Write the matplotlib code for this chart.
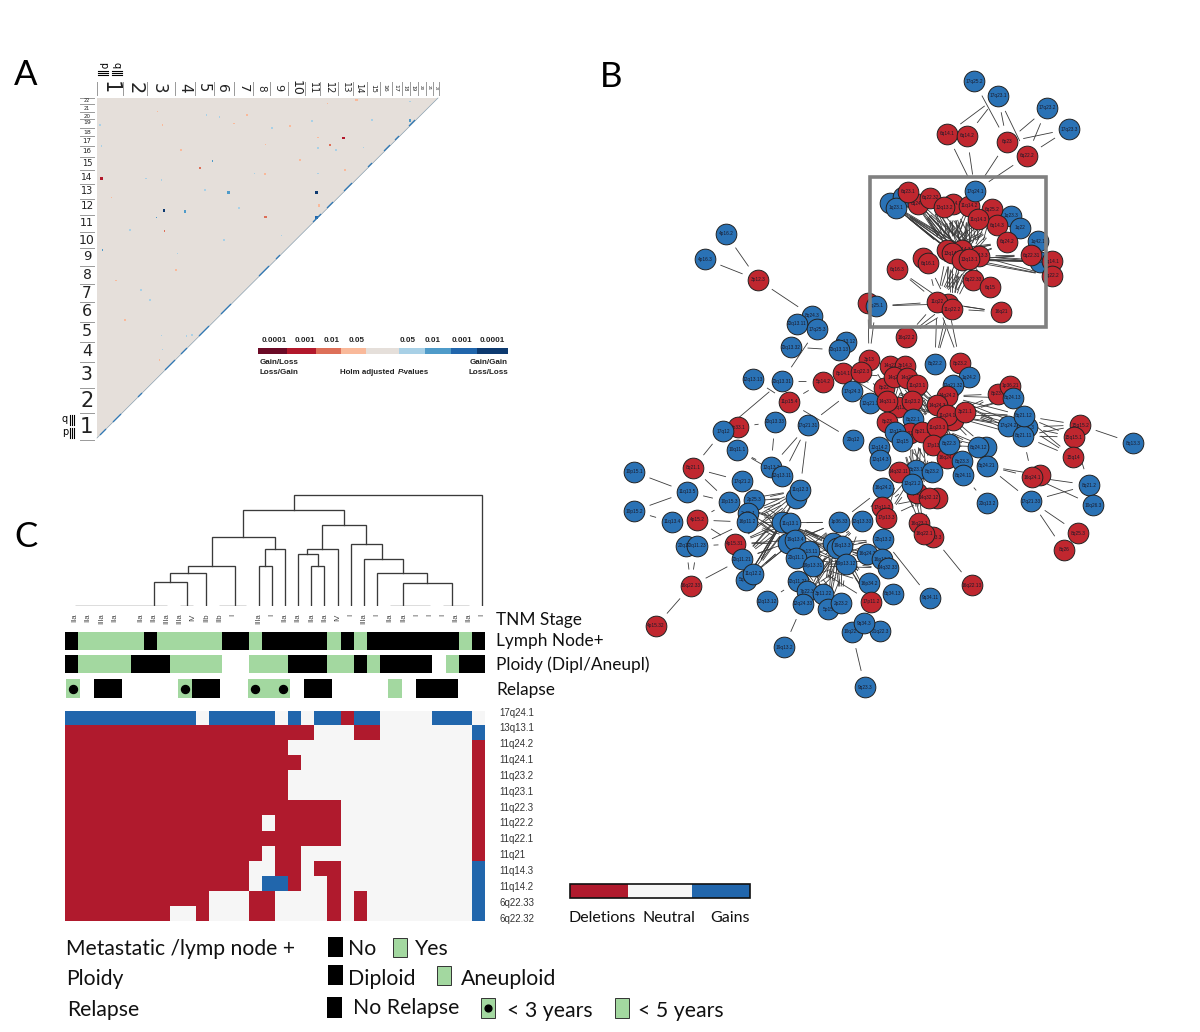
import numpy as np
import matplotlib
matplotlib.use("Agg")
import matplotlib.pyplot as plt
from matplotlib.colors import ListedColormap
from matplotlib.patches import Rectangle

W, H = 1200, 1032
LABEL_FONT = "Lato"
ARIAL = "Liberation Sans"

# panel C heatmap, D deletion, N neutral, G gain
heat_rows = ["17q24.1", "13q13.1", "11q24.2", "11q24.1", "11q23.2", "11q23.1", "11q22.3",
             "11q22.2", "11q22.1", "11q21", "11q14.3", "11q14.2", "6q22.33", "6q22.32"]
heat_values = [
    "GGGGGGGGGGNGGGGGNGNGGDGGNNNNGGGN",
    "DDDDDDDDDDDDDDDDDDDNNNDDNNNNNNNG",
    "DDDDDDDDDDDDDDDDDNNNNNNNNNNNNNND",
    "DDDDDDDDDDDDDDDDDDNNNNNNNNNNNNND",
    "DDDDDDDDDDDDDDDDDNNNNNNNNNNNNNND",
    "DDDDDDDDDDDDDDDDDNNNNNNNNNNNNNND",
    "DDDDDDDDDDDDDDDDDDDDDNNNNNNNNNND",
    "DDDDDDDDDDDDDDDNDDDDDNNNNNNNNNND",
    "DDDDDDDDDDDDDDDDDDDDDNNNNNNNNNND",
    "DDDDDDDDDDDDDDDNDDNNNNNNNNNNNNND",
    "DDDDDDDDDDDDDDNNDDNDDNNNNNNNNNNG",
    "DDDDDDDDDDDDDDNGGDNNDNNNNNNNNNNG",
    "DDDDDDDDDDDNNNDDNNNNDNDNNNNNNNNG",
    "DDDDDDDDNNDNNNDDNNNNDNDNNNNNNNNG",
]

# clinical tracks, B black, Y green, O green with a dot, . empty
lymph_track = "BYYYYYBYYYYYBBYBBBBBYBYBBBBBBBYB"
ploidy_track = "BYYYYBBBYYYY..YYYBBBYYBYBBBB.YBB"
relapse_track = "O.BB....OBB..OYO.BB....Y.BBB.."
tnm_labels = ["IIa", "IIa", "IIIa", "IIa", "", "IIa", "IIa", "IIIa", "IIIa", "IV", "IIb", "IIb", "I", "",
              "IIIa", "I", "IIa", "IIa", "IIa", "IIa", "IV", "I", "IIIa", "I", "IIa", "IIa", "I", "I", "I",
              "IIa", "IIa", "I"]

# dendrogram brackets, in leaf positions and heights
den_left = [6, 7.23, 8.6, 14, 14.47, 10.4, 18, 17, 17.7, 25, 23, 22, 21, 18.8, 12.8, 16.7]
den_right = [8.5, 10, 12.2, 15, 16, 15.2, 19, 18.5, 20, 28.7, 26.8, 25, 23.4, 22.2, 20.5, 31]
den_left_base = [0, 23.7, 32.7, 0, 40.3, 40.3, 0, 0, 52, 0, 0, 0, 0, 56.7, 69, 95.7]
den_right_base = [0, 0, 0, 0, 0, 56.7, 0, 40.3, 0, 0, 23.3, 32.7, 46.7, 61.7, 80.7, 0]
den_top = [23.7, 32.7, 40.3, 40.3, 56.7, 69, 40.3, 52, 56.7, 23.3, 32.7, 46.7, 61.7, 80.7, 95.7, 111]
den_flat_from = [0, 8, 11, 24, 28]
den_flat_to = [7, 9, 13, 27, 30]

# panel A, chromosome label positions along the triangle
chrom_names = [str(i) for i in range(1, 23)]
top_label_x = [110, 135, 159, 185, 203, 222, 243, 261, 278, 296, 313, 329, 345, 359, 373, 385, 396, 405, 413, 421, 429, 436]
top_sep_x = [97, 123, 147, 175, 195, 214, 234, 253, 270, 288, 305, 320, 338, 353, 367, 380, 392, 402, 410, 418, 426, 433, 439]
top_label_size = [15, 14, 12, 11, 10.5, 10, 9.5, 7.5, 8, 9, 7, 7, 6.5, 6, 5, 4.5, 4.5, 3.5, 3.5, 3, 3, 2.5]
left_label_y = [427, 401, 375, 352, 332, 312, 293, 275, 257, 240, 223, 206, 191, 177, 164, 151, 141, 132, 123, 116, 108, 101]
left_sep_y = [440, 413, 388, 362, 342, 322, 302, 284, 266, 248, 232, 215, 199, 184, 170, 157, 146, 136, 128, 119, 112, 104, 98]
left_label_size = [15.5, 15, 13.5, 11.5, 11.5, 11.5, 11, 10, 9.5, 9, 8, 7.5, 7, 6.5, 6, 5, 5, 4.5, 4.5, 4, 3.5, 3.5]

# panel A, significant cells, class is an index into scale_colors
strong_x = [101.7, 316.7, 164, 185, 265.7, 319, 228.3, 316.7, 343.3, 356.7, 410]
strong_y = [178.3, 192.7, 210.3, 211.7, 217, 205.3, 192.7, 217.3, 138, 100, 120.7]
strong_class = [1, 8, 8, 6, 2, 3, 6, 7, 1, 3, 6]
faint_x = [111.7, 161.7, 157.3, 162.3, 330, 318, 312, 327.7, 410, 363.3, 318, 265.7, 254.3, 265, 318, 200, 212.3, 146,
           101.7, 102.3, 156.7, 164.3, 281.7, 177.7, 116, 161.7, 162.7, 186.7, 192, 159.3, 219.3, 234, 206.7, 130,
           100, 181, 205, 247, 272, 300, 336, 345, 372, 141, 176, 224, 290, 150, 125, 239]
faint_y = [197.3, 180, 111.7, 125, 145, 137.3, 121, 103.3, 101.7, 147.3, 148, 144.3, 173.3, 174, 173.3, 168, 161, 178.3,
           146, 250, 217.3, 231, 235.7, 253.3, 280.7, 335.7, 349.3, 336, 335, 360, 117, 123.3, 115, 230,
           125, 150, 190, 115, 128, 160, 150, 170, 120, 290, 270, 240, 126, 300, 320, 208]
faint_class = [3, 5, 3, 3, 2, 3, 5, 3, 5, 5, 5, 3, 5, 3, 5, 2, 6, 5,
               5, 6, 6, 2, 5, 5, 3, 5, 5, 5, 5, 3, 5, 3, 5, 5,
               5, 3, 5, 3, 5, 3, 5, 3, 5, 5, 3, 5, 3, 5, 3, 5]
diag_x = [103, 117, 140, 170, 184, 204, 226, 264, 278, 317, 330, 348, 370, 387, 397, 412]
diag_len = [3, 4, 2, 5, 3, 5, 5, 5, 2, 4, 3, 4, 2, 3, 2, 3]
scale_colors = ["#6b0a26", "#b2182b", "#dd6f58", "#f9b99a", "#e5dfda", "#a8d0e6", "#4f9bc9", "#2166ac", "#0d3a70"]
scale_edges = [258, 287, 316, 341, 366, 399, 425, 451, 477, 508]
scale_labels = ["0.0001", "0.001", "0.01", "0.05", "0.05", "0.01", "0.001", "0.0001"]
scale_label_x = [274, 305, 332, 357, 408, 433, 462, 492]

# panel B nodes, in drawing order, R deletion, B gain
node_names = [
    "17q25.2", "17q23.1", "17q23.2", "17q23.3", "6q14.1", "6q14.2", "6p23", "6q22.2", "1q23.2", "1q23.b",
    "1q23.1", "6q24.1", "6q23.1", "11q14.1", "6q22.32", "13q13.2", "11q14.2", "17q24.1", "1q23.3", "6q25.2",
    "6q14.3", "11q14.3", "1q22", "1q42.1", "6q24.2", "1q42.2", "3q14.1", "3q22.2", "6q22.31", "13q14.2",
    "13q14.3", "13q14.1", "13q21.1", "13q13.3", "13q13.1", "6q16.2", "6q16.1", "6q16.3", "6q22.33", "6q15",
    "11q22.1", "11q22", "11q22.2", "16q21", "16p13.3", "1q25.1", "16q22.2", "4p16.2", "4p16.3", "3p12.3",
    "8q24.3", "20q13.11", "17q25.3", "20q13.32", "20q13.12", "20q13.13", "12q13.13", "20q13.31", "5p14.2", "3p13",
    "8p14.1", "11q22.3", "8q22.2", "8p23.2", "1q24.2", "12q21.32", "17q24.3", "11p15.4", "12q21.3", "20q13.33",
    "17q21.31", "3p33.1", "17q12", "14q24.2", "14q24.3", "11q24.2", "11q24.1", "3p21.1", "8p22", "14q21",
    "3p14.3", "14q22", "14q23", "11q23.1", "14q13", "14q31.1", "11q23.2", "8p23", "8q22.1", "8p21.2",
    "12q12", "12q15", "8p21.1", "11q23.3", "17p13", "16q24.r", "8q22.3", "20q12", "10q11.1", "12q14.2",
    "12q14.3", "8q21.1", "12q13.2", "12q13.11", "8q23.1", "14q32.11", "17q21.2", "16q24.2", "14q32.13", "8q23.2",
    "12q21.2", "14q32.1", "14q32.12", "10p15.1", "11q13.5", "10p15.2", "10p15.3", "2p25.3", "11q12.1", "11q12.3",
    "11q13.4", "4p15.2", "2p25.1", "16p11.2", "17q11.2", "17p13.3", "11q13.2", "11q13.1", "1p36.33", "12q13.33",
    "16q23.1", "16q23.3", "16q22.1", "22q13.2", "4p15.31", "22q11.1", "20q11.23", "22q13.3", "19q13.4", "19q13.1",
    "19q13.2b", "19q13.3", "16q24.3", "16p13.1", "14q32.33", "8p13.11", "20q11.1", "20q11.21", "5q35.3", "11q12.2",
    "19p13.31", "19p13.12", "16q22.33", "22q11.21", "7p22.3", "3p11.22", "16p34.2", "8q34.13", "12q13.12", "12q24.33",
    "5p15", "2p23.2", "17p11.2", "4p15.32", "10q22.3", "21q22.3", "9q34.3", "19q13.2", "9q23.3", "8p23.1",
    "1p36.21", "8q24.13", "8q24.22", "8q24.12", "17q24.2", "8q21.3", "8q21.11", "8q21.12", "15q15.2", "15q15.1",
    "15q14", "8q13.3", "8q23.3", "8q24.11", "8q24.21", "16q24.b", "16q24.1", "8q21.2", "10q26.3", "17q21.33",
    "20q13.2", "8q25.3", "8q26", "9q34.11", "16q22.13",
]
node_x = [
    974, 998, 1047, 1069, 947, 967, 1007, 1027, 890, 903,
    896, 918, 908, 953, 930, 944, 969, 975, 1011, 992,
    997, 978, 1020, 1038, 1007, 1040, 1052, 1052, 1031, 947,
    962, 952, 962, 979, 969, 923, 928, 897, 973, 990,
    948, 937, 952, 1001, 868, 876, 906, 726, 705, 758,
    812, 797, 817, 791, 846, 839, 753, 782, 823, 869,
    843, 861, 935, 960, 969, 953, 852, 789, 870, 775,
    808, 738, 723, 947, 937, 953, 947, 965, 884, 890,
    905, 894, 907, 917, 898, 887, 912, 887, 913, 910,
    895, 902, 922, 937, 933, 947, 949, 853, 737, 879,
    880, 693, 771, 782, 916, 899, 742, 883, 917, 932,
    912, 937, 929, 634, 687, 634, 729, 754, 796, 800,
    672, 697, 748, 747, 882, 886, 782, 790, 839, 862,
    919, 933, 924, 883, 735, 686, 697, 788, 795, 833,
    837, 842, 867, 882, 888, 809, 796, 742, 746, 753,
    813, 846, 691, 798, 807, 823, 869, 893, 767, 803,
    828, 841, 871, 656, 852, 880, 864, 784, 865, 998,
    1010, 1013, 986, 978, 1008, 1027, 1023, 1024, 1080, 1074,
    1073, 1133, 962, 963, 987, 1040, 1032, 1089, 1093, 1031,
    987, 1078, 1064, 930, 972,
]
node_y = [
    81, 96, 108, 129, 134, 136, 142, 156, 203, 197,
    208, 204, 192, 204, 198, 207, 206, 191, 216, 209,
    225, 219, 228, 241, 242, 262, 261, 276, 255, 250,
    250, 253, 260, 256, 259, 258, 263, 269, 280, 287,
    304, 302, 309, 312, 303, 306, 337, 234, 259, 280,
    316, 324, 329, 347, 342, 350, 379, 381, 382, 360,
    373, 372, 364, 363, 377, 385, 391, 402, 403, 422,
    425, 427, 431, 396, 405, 420, 415, 412, 388, 366,
    366, 377, 378, 385, 407, 401, 401, 422, 419, 433,
    432, 441, 432, 427, 445, 458, 444, 440, 450, 447,
    460, 468, 467, 476, 470, 472, 481, 488, 493, 472,
    484, 498, 498, 472, 492, 511, 502, 500, 498, 490,
    522, 520, 513, 522, 507, 518, 522, 523, 522, 521,
    523, 537, 534, 539, 544, 546, 546, 543, 540, 543,
    548, 546, 554, 559, 568, 551, 558, 559, 580, 574,
    566, 564, 586, 581, 591, 594, 583, 594, 601, 604,
    609, 603, 602, 626, 632, 631, 623, 647, 687, 394,
    386, 398, 447, 447, 426, 427, 436, 416, 425, 437,
    457, 443, 461, 475, 466, 475, 477, 485, 505, 501,
    503, 533, 550, 598, 585,
]
node_kind = (
    "BBBBRRRRBB" "BRRRRRRBBR" "RRBBRBRRRR" "RRRRRRRRRR" "RRRRRBRBBR"
    "BBBBBBBBRR" "RRBRBBBRBB" "BRBRRRRRRR" "RRRRRRRRBR" "BBRRRRBBBB"
    "BRBBBRBBRB" "BRRBBBBBBB" "BRBBRRBBBB" "RRRBRBBBBB" "BBBBBBBBBB"
    "BBRBBBBBBB" "BBRRBBBBBR" "RBBBBBBBRR" "RBBBBRRBBB" "BRRBR"
)

# panel B edges, every source is linked to every target of a group
upper_row = ["1q23.2", "1q23.1", "6q23.1", "6q24.1", "6q22.32", "13q13.2", "11q14.1", "11q14.2",
             "11q14.3", "6q25.2", "6q14.3", "6q24.2", "17q24.1"]
lower_row = ["13q14.2", "13q14.3", "13q14.1", "13q21.1", "13q13.3", "13q13.1"]
star_hub = ["19q13.1", "19q13.2b", "19q13.3", "19p13.12", "19p13.31"]
star_rim = ["22q11.21", "7p22.3", "3p11.22", "12q24.33", "5p15", "2p23.2", "16q24.3", "16p13.1", "14q32.33",
            "22q13.2", "12q13.33", "16p34.2", "17p11.2"]
edge_groups = [
    (["17q23.1"], ["6q14.1", "6q14.2", "6p23", "6q22.2"]),
    (["17q25.2"], ["6p23"]),
    (["17q23.2", "17q23.3"], ["6p23", "6q22.2"]),
    (["17q24.1"], ["6q14.1", "6q14.2", "6p23", "6q22.2"]),
    (upper_row, lower_row),
    (lower_row, ["6q22.33", "6q15", "11q22", "11q22.1", "11q22.2", "6q16.1"]),
    (["13q13.3", "13q13.1", "13q21.1"], ["3q14.1", "3q22.2", "6q22.31", "1q42.2"]),
    (["1q42.1"], ["6q24.2"]),
    (["11q22", "11q22.1", "11q22.2"], ["16q21", "16q22.2", "8q22.2"]),
    (["11q22", "11q22.1"], ["1q25.1", "6q16.3", "6q16.1", "8p23.2"]),
    (["16p13.3", "1q25.1"], ["3p13"]),
    (["3p12.3"], ["4p16.2", "4p16.3", "8q24.3"]),
    (["17q25.3"], ["20q13.12", "20q13.13", "20q13.31"]),
    (["20q13.13", "20q13.12"], ["8p14.1", "11q22.3", "3p13"]),
    (["3p13", "11q22.3", "8p14.1"], ["14q21", "14q22", "8p22", "14q13"]),
    (["14q21", "3p14.3", "14q22", "14q23", "8p22", "14q13", "14q31.1", "11q23.1", "11q23.2"],
     ["14q24.3", "11q24.1", "11q23.3", "8q22.1", "8p23"]),
    (["14q24.2", "11q24.1", "3p21.1"], ["8p23.1", "8q24.13", "17q24.2", "8q21.12", "8q21.3", "8q21.11"]),
    (["14q24.3", "11q23.3", "8p21.1", "17p13"], ["8q22.3", "8q24.12", "8q24.22", "8q23.3", "8q24.11"]),
    (["12q21.32", "1q24.2", "8p23.2"], ["14q24.2", "11q24.1", "14q24.3"]),
    (["14q32.11", "17p13", "8p21.2", "8p21.1", "12q15"], ["12q21.2", "14q32.12", "14q32.13", "8q23.2", "8q23.1"]),
    (["12q21.2", "14q32.12", "14q32.11", "8q23.1"], ["16q23.1", "16q22.1", "17p13.3", "17q11.2"]),
    (["20q13.32"], ["20q13.13"]),
    (["5p14.2"], ["20q13.31", "11p15.4"]),
    (["17q12"], ["20q13.31", "8q21.1"]),
    (["12q13.13"], ["11p15.4"]),
    (["11p15.4"], ["20q12"]),
    (["17q21.31"], ["17q24.3", "12q13.2", "12q13.11", "11q12.3"]),
    (["3p33.1"], ["20q13.33"]),
    (["20q13.33"], ["12q13.2"]),
    (["10q11.1"], ["17q21.2", "12q13.2", "12q13.11"]),
    (["8q21.1"], ["17q21.2", "10p15.3"]),
    (["11q13.5"], ["10p15.1", "10p15.2", "10p15.3"]),
    (["10p15.2"], ["11q13.4"]),
    (["4p15.2"], ["10p15.3", "16p11.2", "4p15.31"]),
    (["20q11.23"], ["4p15.31", "16p11.2", "16q22.33"]),
    (["16q22.33"], ["20q11.21", "4p15.32", "22q11.1"]),
    (["10p15.3", "2p25.3", "2p25.1", "16p11.2", "4p15.31", "20q11.21", "11q12.2", "5q35.3"],
     ["11q13.2", "11q13.1", "22q13.3", "19q13.4", "11q12.1", "11q12.3"]),
    (["11q13.2", "11q13.1", "22q13.3", "19q13.4", "8p13.11", "20q11.1"], star_hub + ["1p36.33"]),
    (star_hub, star_rim),
    (["8p13.11", "20q11.1"], ["22q11.21", "7p22.3", "3p11.22", "5p15", "12q24.33"]),
    (["1p36.33", "12q13.33", "22q13.2"], ["17q11.2", "17p13.3", "16q24.2"]),
    (["12q13.12"], ["22q11.21"]),
    (["12q24.33"], ["19q13.2"]),
    (["2p23.2"], ["10q22.3"]),
    (["10q22.3"], ["9q23.3"]),
    (["16q23.3"], ["16q22.13"]),
    (["22q13.2"], ["9q34.11"]),
    (["17q21.33"], ["8q24.21", "8q21.2", "8q25.3", "8q26"]),
    (["16q24.1"], ["8q24.21", "10q26.3", "8q21.2", "8q21.11"]),
    (["16q24.b"], ["8q24.21"]),
    (["8q24.11"], ["20q13.2"]),
    (["8q13.3"], ["15q15.2"]),
    (["8q21.12", "8q21.3", "8q21.11"], ["15q15.1", "15q15.2", "15q14"]),
    (["15q15.1", "15q14"], ["8q21.2"]),
]

# legend texts
track_titles = ["TNM Stage", "Lymph Node+", "Ploidy (Dipl/Aneupl)", "Relapse"]
track_title_y = [620, 641, 665, 690]
legend_titles = ["Metastatic /lymp node +", "Ploidy", "Relapse"]
legend_title_x = [66, 66, 67]
legend_title_y = [949, 979, 1010]

RED = "#b01a2d"
BLUE = "#2166ac"
GREEN = "#a3d8a0"
NEUTRAL = "#f6f6f6"
NODE_RED = "#c0272f"
NODE_BLUE = "#2a72b5"


def panel(x0, y0, x1, y1):
    """axes placed by pixel box in the 1200x1032 picture"""
    a = fig.add_axes([x0 / W, 1 - y1 / H, (x1 - x0) / W, (y1 - y0) / H])
    a.axis("off")
    return a


def draw_track(a, track):
    codes = {".": 0, "B": 1, "Y": 2, "O": 2}
    cells = np.array([[codes[c] for c in track]])
    a.imshow(cells, aspect="auto", interpolation="nearest", vmin=0, vmax=2,
             cmap=ListedColormap(["white", "black", GREEN]))
    dots = [i for i, c in enumerate(track) if c == "O"]
    a.scatter(dots, [0] * len(dots), s=33, color="black", zorder=3)


fig = plt.figure(figsize=(W / 100, H / 100), dpi=100)

# panel C heatmap and tracks
ax_heat = panel(65, 711, 485, 921)
heat_codes = {"D": 0, "N": 1, "G": 2}
heat = np.array([[heat_codes[c] for c in row] for row in heat_values])
ax_heat.imshow(heat, aspect="auto", interpolation="nearest", cmap=ListedColormap([RED, NEUTRAL, BLUE]))
draw_track(panel(65, 632, 485, 650), lymph_track)
draw_track(panel(65, 655, 485, 673), ploidy_track)
draw_track(panel(66, 679, 486, 698), relapse_track)

ax_den = panel(68.4, 480, 488.6, 606)
ax_den.set_xlim(-0.5, 31.5)
ax_den.set_ylim(0, 126)
for i in range(len(den_top)):
    ax_den.plot([den_left[i], den_left[i], den_right[i], den_right[i]],
                [den_left_base[i], den_top[i], den_top[i], den_right_base[i]],
                color="#3a3a3a", lw=0.95, solid_joinstyle="miter")
ax_den.hlines([0] * len(den_flat_from), den_flat_from, den_flat_to, color="#555555", lw=1.0)

# overlay for everything placed directly in picture pixels
ax = fig.add_axes([0, 0, 1, 1])
ax.set_xlim(0, W)
ax.set_ylim(H, 0)
ax.axis("off")
ax.patch.set_alpha(0)

for i, lab in enumerate(tnm_labels):
    ax.text(75 + 13.13 * i, 613.5, lab, rotation=90, ha="center", va="top", fontsize=5.6,
            family=ARIAL, color="#444444")
for title, y in zip(track_titles, track_title_y):
    ax.text(496, y, title, fontsize=12.4, family=LABEL_FONT, va="center", color="#111111")
for i, row in enumerate(heat_rows):
    ax.text(499, 712.5 + 15.85 * i, row, fontsize=7, family=ARIAL, va="center", color="#333333")

# panel letters
ax.text(14, 75, "A", fontsize=25, family=LABEL_FONT, va="center")
ax.text(600, 77, "B", fontsize=25, family=LABEL_FONT, va="center")
ax.text(14, 537, "C", fontsize=25, family=LABEL_FONT, va="center")

# panel A triangle
ax.fill([97, 438, 97], [98, 98, 438], color="#e5dfda", lw=0, zorder=1)
ax.plot([97, 438], [438, 98], color="#8aa0b0", lw=0.5, zorder=2)
ax.scatter(faint_x, faint_y, s=1.2, marker="s", c=[scale_colors[c] for c in faint_class], linewidths=0, zorder=3)
ax.scatter(strong_x, strong_y, s=3.5, marker="s", c=[scale_colors[c] for c in strong_class], linewidths=0, zorder=3)
for x, half in zip(diag_x, diag_len):
    ax.plot([x - half, x + half], [535 - (x - half), 535 - (x + half)], color="#2f78b5", lw=0.9, zorder=3,
            solid_capstyle="butt")
for x in top_sep_x:
    ax.plot([x, x], [82, 95], color="#999999", lw=0.7)
for y in left_sep_y:
    ax.plot([80, 94], [y, y], color="#999999", lw=0.7)
for name, x, size in zip(chrom_names, top_label_x, top_label_size):
    ax.text(x, 88, name, rotation=270, ha="center", va="center", fontsize=size, color="#222222")
for name, y, size in zip(chrom_names, left_label_y, left_label_size):
    ax.text(87, y, name, ha="center", va="center", fontsize=size, color="#222222")
for x0, lab in zip([100, 114], ["p", "q"]):
    ax.text(x0 + 3, 65, lab, rotation=270, ha="center", va="center", fontsize=7)
    for dy in [71, 73, 75]:
        ax.plot([x0 - 2, x0 + 8], [dy, dy], color="black", lw=0.8)
for y0, lab in zip([433, 420], ["p", "q"]):
    ax.text(65, y0 - 1, lab, ha="center", va="center", fontsize=7)
    for dx in [70, 72, 74]:
        ax.plot([dx, dx], [y0 - 5, y0 + 5], color="black", lw=0.8)

# P value scale
for i, col in enumerate(scale_colors):
    ax.add_patch(Rectangle((scale_edges[i], 348), scale_edges[i + 1] - scale_edges[i], 5.5, color=col, lw=0))
for x, lab in zip(scale_label_x, scale_labels):
    ax.text(x, 341, lab, fontsize=5.8, family=ARIAL, ha="center", va="center", color="#222222", fontweight="bold")
ax.text(260, 363, "Gain/Loss", fontsize=5.8, family=ARIAL, va="center", color="#222222", fontweight="bold")
ax.text(260, 373, "Loss/Gain", fontsize=5.8, family=ARIAL, va="center", color="#222222", fontweight="bold")
ax.text(508, 363, "Gain/Gain", fontsize=5.8, family=ARIAL, va="center", ha="right", color="#222222", fontweight="bold")
ax.text(508, 373, "Loss/Loss", fontsize=5.8, family=ARIAL, va="center", ha="right", color="#222222", fontweight="bold")
ax.text(340, 373, "Holm adjusted", fontsize=5.7, family=ARIAL, va="center", color="#222222", fontweight="bold")
ax.text(398, 373, "P", fontsize=5.7, family=ARIAL, va="center", color="#222222", fontweight="bold", style="italic")
ax.text(402, 373, "-values", fontsize=5.7, family=ARIAL, va="center", color="#222222", fontweight="bold")

# panel B network, edges stop short of the node circles
assert len(node_names) == len(node_x) == len(node_y) == len(node_kind)
assert len(set(node_names)) == len(node_names)
pos = {n: (x, y) for n, x, y in zip(node_names, node_x, node_y)}
for sources, targets in edge_groups:
    for s in sources:
        for t in targets:
            (x0, y0), (x1, y1) = pos[s], pos[t]
            d = np.hypot(x1 - x0, y1 - y0)
            if d < 36:
                continue
            ux, uy = (x1 - x0) / d, (y1 - y0) / d
            ax.plot([x0 + 17 * ux, x1 - 17 * ux], [y0 + 17 * uy, y1 - 17 * uy],
                    color="#3a3a3a", lw=0.6, zorder=5)
nx = np.array(node_x)
ny = np.array(node_y)
for i, name in enumerate(node_names):
    col = NODE_RED if node_kind[i] == "R" else NODE_BLUE
    ax.scatter([node_x[i]], [node_y[i]], s=222, color=col, edgecolors="#222222", linewidths=0.7, zorder=10 + i)
    # a label under a later node is not visible in the picture
    covered = np.hypot(nx[i + 1:] - node_x[i], ny[i + 1:] - node_y[i]) < 9
    if not covered.any():
        ax.text(node_x[i], node_y[i], name, fontsize=3.4, ha="center", va="center", color="#1a1a2a",
                family=ARIAL, zorder=10 + i)
ax.add_patch(Rectangle((870, 177), 176, 150, fill=False, edgecolor="#808080", lw=2.6, zorder=1000))

# panel C colour key
ax.add_patch(Rectangle((570, 884), 58, 14, color=RED, lw=0))
ax.add_patch(Rectangle((628, 884), 64, 14, color=NEUTRAL, lw=0))
ax.add_patch(Rectangle((692, 884), 58, 14, color=BLUE, lw=0))
ax.add_patch(Rectangle((570, 884), 180, 14, fill=False, edgecolor="#111111", lw=1.2))
for x, lab in zip([569, 643, 710], ["Deletions", "Neutral", "Gains"]):
    ax.text(x, 918, lab, fontsize=11.5, family=LABEL_FONT, va="center", color="#111111")

# bottom legend
for lab, x, y in zip(legend_titles, legend_title_x, legend_title_y):
    ax.text(x, y, lab, fontsize=15.2, family=LABEL_FONT, va="center", color="#111111")
black_box_x = [328, 328, 327]
black_box_y = [937, 965, 997]
black_box_h = [20, 20, 21]
for x, y, h in zip(black_box_x, black_box_y, black_box_h):
    ax.add_patch(Rectangle((x, y), 15, h, color="black", lw=0))
green_box_x = [393, 437, 481, 615]
green_box_y = [938, 966, 998, 998]
green_box_h = [19, 19, 20, 20]
for x, y, h in zip(green_box_x, green_box_y, green_box_h):
    ax.add_patch(Rectangle((x, y), 14, h, facecolor=GREEN, edgecolor="#333333", lw=0.7))
ax.scatter([488], [1008], s=24, color="black", zorder=3)
legend_items = ["No", "Yes", "Diploid", "Aneuploid", "No Relapse", "< 3 years", "< 5 years"]
legend_item_x = [348, 415, 348, 461, 353, 507, 638]
legend_item_y = [949, 949, 979, 979, 1008, 1011, 1011]
for lab, x, y in zip(legend_items, legend_item_x, legend_item_y):
    ax.text(x, y, lab, fontsize=15.3, family=LABEL_FONT, va="center", color="#111111")

fig.savefig("out.png", dpi=100)
